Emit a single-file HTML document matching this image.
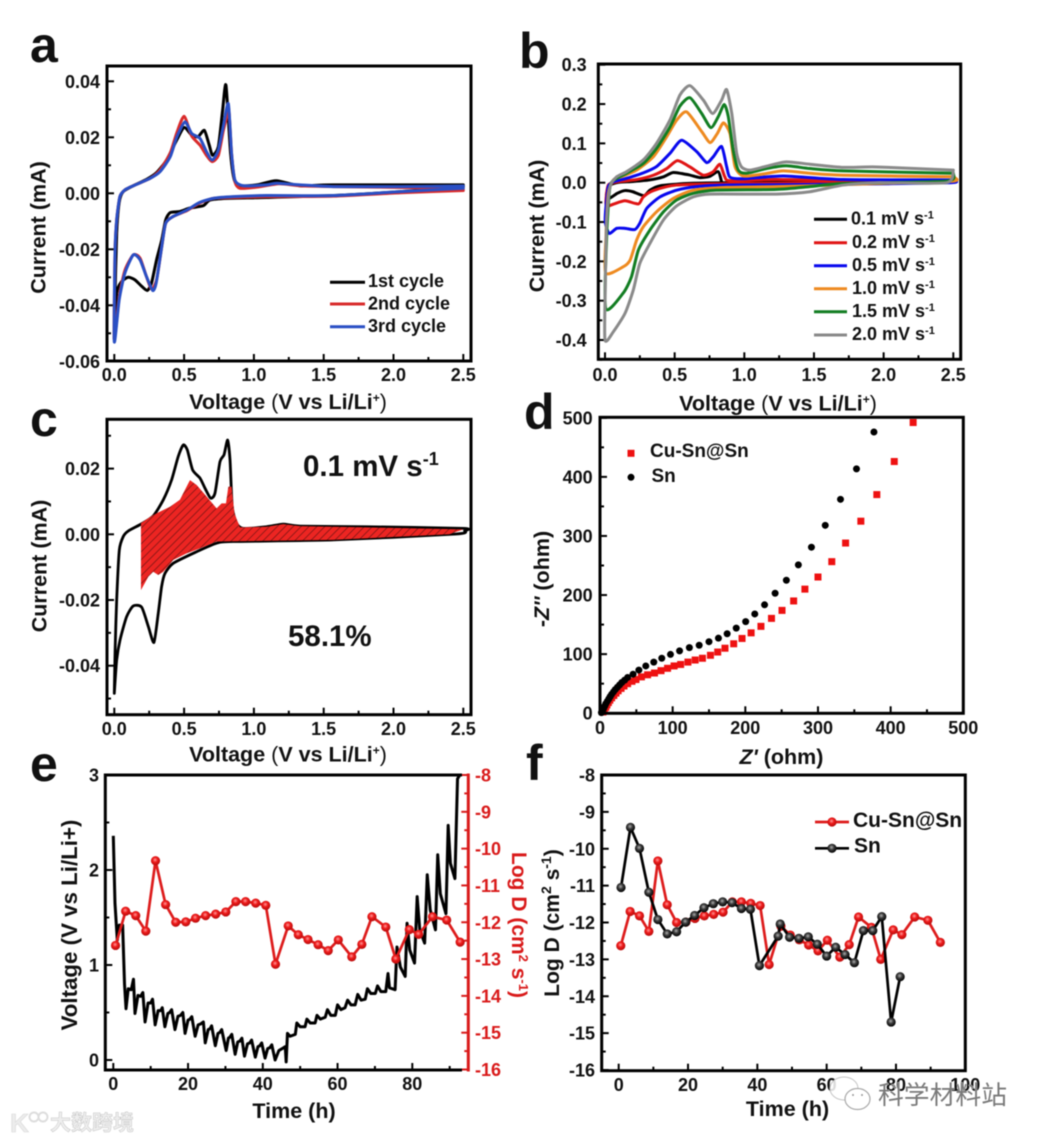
<!DOCTYPE html>
<html lang="en">
<head>
<meta charset="utf-8">
<title>Electrochemical characterisation of Cu-Sn@Sn</title>
<style>
html,body{margin:0;padding:0;background:#fff;}
svg{display:block;font-family:"Liberation Sans","Noto Sans CJK SC",sans-serif;font-weight:bold;fill:#111;filter:blur(0.45px);}
.tick{font-size:18px;}
.title{font-size:21.5px;}
.leg{font-size:18px;}
.letter{font-size:50px;}
.frame{fill:none;stroke:#000;stroke-width:3;}
.thin{font-weight:normal;}
</style>
</head>
<body>
<svg id="figure" xmlns="http://www.w3.org/2000/svg" width="1041" height="1141" viewBox="0 0 1041 1141">
<defs>
  <pattern id="hatch" patternUnits="userSpaceOnUse" width="5.6" height="5.6" patternTransform="rotate(-45)">
    <rect width="5.6" height="5.6" fill="#ec2522"/>
    <line x1="0" y1="2.8" x2="5.6" y2="2.8" stroke="#5a1210" stroke-width="0.6"/>
  </pattern>
  <radialGradient id="ballRed" cx="45%" cy="40%" r="60%">
    <stop offset="0" stop-color="#ff9a9a"/><stop offset="0.45" stop-color="#ee1a1a"/><stop offset="1" stop-color="#b50d0d"/>
  </radialGradient>
  <radialGradient id="ballBlack" cx="45%" cy="40%" r="60%">
    <stop offset="0" stop-color="#b0b0b0"/><stop offset="0.45" stop-color="#3a3a3a"/><stop offset="1" stop-color="#000"/>
  </radialGradient>
</defs>

<!-- Panel a -->
<g id="panel-a">
  <text class="letter" x="30" y="62">a</text>
  <g id="plot-a"></g>
  <rect class="frame" x="107" y="66" width="364" height="295"/>
  <text class="title" transform="translate(45.5,227.5) rotate(-90)" text-anchor="middle">Current (mA)</text>
  <text class="title" x="288" y="409" text-anchor="middle">Voltage <tspan class="thin">(</tspan>V vs Li/Li<tspan dy="-7" font-size="12">+</tspan><tspan dy="7" class="thin">)</tspan></text>
  <g>
    <line x1="330" x2="365" y1="282.3" y2="282.3" stroke="#000" stroke-width="3"/>
    <text class="leg" x="368" y="287">1st cycle</text>
    <line x1="330" x2="365" y1="304" y2="304" stroke="#d92b2b" stroke-width="3"/>
    <text class="leg" x="368" y="309.5">2nd cycle</text>
    <line x1="330" x2="365" y1="326.7" y2="326.7" stroke="#2a4fc4" stroke-width="3"/>
    <text class="leg" x="368" y="332">3rd cycle</text>
  </g>
</g>

<!-- Panel b -->
<g id="panel-b">
  <text class="letter" x="519" y="68">b</text>
  <g id="plot-b"></g>
  <rect class="frame" x="598.3" y="64" width="362.4" height="295.3"/>
  <text class="title" transform="translate(544,226) rotate(-90)" text-anchor="middle">Current (mA)</text>
  <text class="title" x="778" y="410.5" text-anchor="middle">Voltage <tspan class="thin">(</tspan>V vs Li/Li<tspan dy="-7" font-size="12">+</tspan><tspan dy="7" class="thin">)</tspan></text>
  <g>
    <line x1="814" x2="847" y1="219.3" y2="219.3" stroke="#000" stroke-width="3"/>
    <text class="leg" x="851" y="224.5">0.1 mV s<tspan dy="-6" font-size="11">-1</tspan></text>
    <line x1="814" x2="847" y1="242.7" y2="242.7" stroke="#e01414" stroke-width="3"/>
    <text class="leg" x="852" y="248">0.2 mV s<tspan dy="-6" font-size="11">-1</tspan></text>
    <line x1="814" x2="847" y1="265.7" y2="265.7" stroke="#0808ee" stroke-width="3"/>
    <text class="leg" x="852" y="271">0.5 mV s<tspan dy="-6" font-size="11">-1</tspan></text>
    <line x1="814" x2="847" y1="288.7" y2="288.7" stroke="#ee8a20" stroke-width="3"/>
    <text class="leg" x="852" y="294">1.0 mV s<tspan dy="-6" font-size="11">-1</tspan></text>
    <line x1="814" x2="847" y1="311.7" y2="311.7" stroke="#127d22" stroke-width="3"/>
    <text class="leg" x="852" y="317">1.5 mV s<tspan dy="-6" font-size="11">-1</tspan></text>
    <line x1="814" x2="847" y1="335" y2="335" stroke="#8a8a8a" stroke-width="3"/>
    <text class="leg" x="852" y="340">2.0 mV s<tspan dy="-6" font-size="11">-1</tspan></text>
  </g>
</g>

<!-- Panel c -->
<g id="panel-c">
  <text class="letter" x="30" y="436">c</text>
  <g id="plot-c"></g>
  <rect class="frame" x="107" y="419.3" width="364" height="295.4"/>
  <text class="title" transform="translate(46.5,566) rotate(-90)" text-anchor="middle">Current (mA)</text>
  <text class="title" x="288" y="761.5" text-anchor="middle">Voltage <tspan class="thin">(</tspan>V vs Li/Li<tspan dy="-7" font-size="12">+</tspan><tspan dy="7" class="thin">)</tspan></text>
  <text x="303" y="476" font-size="29.5">0.1 mV s<tspan dy="-11" font-size="18">-1</tspan></text>
  <text x="288" y="646" font-size="29.5">58.1%</text>
</g>

<!-- Panel d -->
<g id="panel-d">
  <text class="letter" x="524" y="429">d</text>
  <g id="plot-d"></g>
  <rect class="frame" x="600" y="417.3" width="363.3" height="296"/>
  <text class="title" transform="translate(549,579) rotate(-90)" text-anchor="middle">-<tspan font-style="italic">Z''</tspan> (ohm)</text>
  <text class="title" x="781.5" y="764" text-anchor="middle"><tspan font-style="italic">Z'</tspan> (ohm)</text>
  <g>
    <rect x="627.5" y="449.8" width="7" height="7" fill="#ee1111"/>
    <text x="650" y="457" font-size="19">Cu-Sn@Sn</text>
    <circle cx="631" cy="477.3" r="3.5" fill="#000"/>
    <text x="651.5" y="482" font-size="19">Sn</text>
  </g>
</g>

<!-- Panel e -->
<g id="panel-e">
  <text class="letter" x="30" y="781">e</text>
  <g id="plot-e"></g>
  <path class="frame" d="M462,775H105.3V1070H462"/>
  <line x1="468.3" x2="468.3" y1="773.5" y2="1071.5" stroke="#d91a1a" stroke-width="3"/>
  <text transform="translate(77,925) rotate(-90)" text-anchor="middle" font-size="22.3">Voltage (V vs Li/Li+)</text>
  <text transform="translate(512,925) rotate(90)" text-anchor="middle" font-size="21" style="fill:#d91a1a">Log D (cm<tspan dy="-7" font-size="13">2</tspan><tspan dy="7"> s</tspan><tspan dy="-7" font-size="13">-1</tspan><tspan dy="7">)</tspan></text>
  <text class="title" x="294" y="1118" text-anchor="middle">Time (h)</text>
</g>

<!-- Panel f -->
<g id="panel-f">
  <text class="letter" x="526" y="780">f</text>
  <g id="plot-f"></g>
  <rect class="frame" x="601.7" y="775" width="363.6" height="295.7"/>
  <text transform="translate(559,923) rotate(-90)" text-anchor="middle" font-size="21">Log D (cm<tspan dy="-8" font-size="14">2</tspan><tspan dy="8"> s</tspan><tspan dy="-8" font-size="14">-1</tspan><tspan dy="8">)</tspan></text>
  <text class="title" x="787.5" y="1116" text-anchor="middle">Time (h)</text>
  <g>
    <line x1="815" x2="849" y1="822" y2="822" stroke="#dd1c1c" stroke-width="2.7"/>
    <circle cx="832" cy="822" r="4.6" fill="url(#ballRed)"/>
    <text x="853" y="827" font-size="21">Cu-Sn@Sn</text>
    <line x1="815" x2="849" y1="848.3" y2="848.3" stroke="#000" stroke-width="2.7"/>
    <circle cx="832" cy="848.3" r="4.6" fill="url(#ballBlack)"/>
    <text x="854" y="852.5" font-size="21">Sn</text>
  </g>
</g>

<!-- Watermarks -->
<g>
  <text x="10" y="1132" font-size="26" style="fill:#ececec;stroke:#d8d8d8;stroke-width:.6">K</text>
  <circle cx="34" cy="1117" r="4.5" fill="none" stroke="#ddd" stroke-width="2"/>
  <circle cx="43" cy="1117" r="4.5" fill="none" stroke="#ddd" stroke-width="2"/>
  <text x="50" y="1130" font-size="21" style="fill:#eeeeee;stroke:#c8c8c8;stroke-width:.5;font-weight:bold">大数跨境</text>
</g>
<g>
  <ellipse cx="844" cy="1088.5" rx="14" ry="11.5" fill="#fff" fill-opacity="0.85" stroke="#c4c4c4" stroke-width="1"/>
  <ellipse cx="857.5" cy="1099" rx="12.5" ry="10.5" fill="#fff" stroke="#a8a8a8" stroke-width="1.2"/>
  <circle cx="853" cy="1095" r="1" fill="#999"/>
  <circle cx="862" cy="1095" r="1" fill="#999"/>
  <text x="878" y="1104" font-size="25.8" style="fill:#7a7a7a;stroke:#fff;stroke-width:.5;font-weight:normal;paint-order:stroke">科学材料站</text>
</g>
</svg>

<script>
// ---------- Panel a data: [voltage V, current mA] ----------
const cycle1 = [[2.5,.003],[1.57,.003],[1.33,.0027],[1.16,.0045],[1.02,.003],[.9,.0027],[.86,.0047],[.833,.0142],[.80,.0386],[.776,.0297],[.745,.0166],[.704,.0136],[.68,.0172],[.645,.0225],[.60,.0202],[.554,.0208],[.50,.0235],[.447,.019],[.375,.0119],[.303,.0074],[.232,.005],[.136,.0027],[.064,.0006],[.036,-.003],[.017,-.0142],[.004,-.039],[0,-.052],[.017,-.0356],[.053,-.0315],[.1,-.03],[.148,-.0309],[.196,-.0332],[.236,-.0347],[.267,-.032],[.303,-.0237],[.34,-.0166],[.368,-.0095],[.4,-.0069],[.47,-.0065],[.54,-.0053],[.638,-.0044],[.685,-.0024],[.805,-.0018],[1.09,-.0015],[1.57,-.0008],[2.05,.0006],[2.5,.0024]];
const cycle2 = [[2.5,.0012],[2.2,.002],[1.57,.0024],[1.33,.0027],[1.18,.0034],[1.02,.0022],[.9,.0018],[.864,.0042],[.84,.0142],[.82,.03],[.80,.0262],[.78,.0222],[.745,.0135],[.70,.0113],[.661,.0135],[.614,.0172],[.554,.0205],[.50,.0275],[.447,.0215],[.4,.0143],[.327,.0083],[.255,.0053],[.136,.0027],[.076,.0012],[.04,-.0012],[.017,-.0095],[.005,-.0214],[0,-.052],[.035,-.037],[.076,-.0275],[.136,-.022],[.184,-.0231],[.23,-.0297],[.267,-.0342],[.303,-.0309],[.34,-.019],[.368,-.0107],[.42,-.0083],[.52,-.0062],[.61,-.0035],[.71,-.0018],[.85,-.0015],[1.09,-.0012],[1.57,-.001],[2.05,.0002],[2.5,.001]];
const cycle3 = [[2.5,.0026],[2.05,.0024],[1.57,.0024],[1.33,.003],[1.163,.0036],[1.09,.003],[.924,.0027],[.864,.0047],[.84,.0142],[.817,.032],[.78,.0237],[.745,.0154],[.702,.0119],[.661,.0148],[.614,.0196],[.554,.0214],[.506,.0255],[.447,.02],[.4,.013],[.327,.0077],[.255,.0053],[.136,.0027],[.076,.0012],[.04,-.0012],[.017,-.0095],[.005,-.0214],[0,-.053],[.035,-.038],[.076,-.0285],[.136,-.022],[.184,-.0237],[.23,-.0297],[.275,-.0347],[.30,-.032],[.34,-.019],[.368,-.0107],[.42,-.0083],[.52,-.006],[.61,-.0033],[.71,-.0018],[.85,-.0012],[1.09,-.0008],[1.57,-.0008],[2.05,.0006],[2.5,.0018]];

// ---------- Panel b data: [voltage V, current mA] ----------
const rate01 = [[.837,.002],[.813,.028],[.75,.016],[.68,.013],[.6,.02],[.49,.026],[.42,.015],[.32,.007],[.2,.003],[.1,.001],[.04,-.006],[.01,-.03],[.03,-.04],[.088,-.027],[.144,-.02],[.2,-.023],[.28,-.033],[.323,-.019],[.395,-.008],[.586,-.002],[.85,0],[1.5,.001],[2.5,.002]];
const rate02 = [[2.5,.002],[2.19,.004],[1.23,.008],[.9,.005],[.86,.015],[.825,.047],[.777,.028],[.706,.019],[.61,.04],[.52,.056],[.443,.036],[.347,.019],[.227,.008],[.084,.002],[.024,-.006],[.007,-.044],[.012,-.06],[.065,-.054],[.144,-.046],[.24,-.054],[.275,-.036],[.347,-.02],[.514,-.006],[.993,-.002],[2.5,.002]];
const rate05 = [[2.5,.007],[1.71,.008],[1.28,.017],[.993,.01],[.897,.014],[.873,.041],[.837,.092],[.777,.066],[.73,.051],[.658,.079],[.55,.108],[.467,.075],[.37,.041],[.275,.025],[.155,.011],[.06,.002],[.024,-.01],[.007,-.06],[.002,-.1],[.03,-.129],[.084,-.116],[.144,-.116],[.215,-.119],[.25,-.103],[.3,-.065],[.395,-.036],[.514,-.019],[.658,-.01],[.873,-.006],[1.71,-.004],[2.48,0],[2.5,.007]];
const rate10 = [[2.5,.015],[1.71,.019],[1.47,.024],[1.28,.03],[1.136,.022],[.993,.017],[.933,.041],[.897,.125],[.85,.152],[.806,.125],[.754,.102],[.694,.13],[.586,.18],[.514,.159],[.443,.117],[.347,.066],[.227,.032],[.13,.017],[.06,.007],[.024,-.027],[.007,-.137],[.005,-.23],[.13,-.214],[.18,-.197],[.227,-.146],[.275,-.112],[.37,-.074],[.49,-.04],[.634,-.019],[.873,-.012],[1.23,-.01],[1.47,-.008],[1.95,-.002],[2.5,.004],[2.5,.015]];
const rate15 = [[2.5,.024],[1.71,.03],[1.47,.036],[1.30,.043],[1.16,.036],[1.017,.024],[.957,.032],[.92,.083],[.885,.168],[.856,.199],[.813,.168],[.76,.14],[.694,.176],[.61,.216],[.538,.195],[.467,.142],[.37,.087],[.275,.049],[.155,.024],[.084,.011],[.036,-.01],[.012,-.137],[.005,-.32],[.13,-.281],[.19,-.239],[.24,-.171],[.323,-.12],[.42,-.074],[.514,-.044],[.634,-.027],[.8,-.019],[1.23,-.017],[1.47,-.01],[1.71,-.002],[2.45,.004],[2.5,.024]];
const rate20 = [[2.5,.032],[1.95,.04],[1.71,.039],[1.47,.047],[1.30,.053],[1.16,.042],[1.04,.032],[.98,.04],[.945,.075],[.91,.176],[.873,.237],[.837,.21],[.773,.176],[.706,.21],[.61,.2466],[.538,.223],[.467,.16],[.37,.10],[.275,.058],[.155,.028],[.084,.015],[.036,-.01],[.012,-.095],[.002,-.264],[0,-.4],[.06,-.379],[.144,-.332],[.203,-.273],[.25,-.205],[.323,-.154],[.419,-.095],[.514,-.059],[.634,-.036],[.754,-.029],[1.23,-.029],[1.47,-.023],[1.71,-.006],[1.95,0],[2.45,0],[2.5,.032]];

// ---------- Panel c data ----------
const totalCurve = [[0,-.0484],[.006,-.035],[.017,-.02],[.036,-.0048],[.064,-.0007],[.1,.001],[.191,.0031],[.279,.0056],[.351,.0105],[.41,.0165],[.458,.0237],[.494,.0272],[.523,.0257],[.561,.0196],[.614,.0171],[.65,.014],[.69,.011],[.721,.0125],[.757,.0221],[.786,.0242],[.812,.0287],[.829,.0226],[.845,.0084],[.876,.0034],[.924,.0018],[1.09,.0023],[1.21,.0031],[1.33,.0025],[1.81,.0023],[2.5,.0018],[2.51,.0011],[2.45,.0001],[1.57,-.0017],[.852,-.0022],[.733,-.0027],[.59,-.0053],[.423,-.0088],[.363,-.0119],[.339,-.0159],[.315,-.024],[.284,-.0329],[.244,-.0281],[.196,-.0222],[.136,-.0218],[.088,-.0251],[.041,-.0322],[.017,-.0383],[0,-.0484]];
const capacitiveRegion = [[.191,.0034],[.279,.0059],[.399,.0084],[.47,.0105],[.542,.0165],[.59,.015],[.661,.0115],[.733,.0079],[.769,.0094],[.8,.0094],[.817,.0145],[.84,.0145],[.86,.0064],[.9,.0021],[1.09,.0023],[1.21,.0031],[1.33,.0025],[1.81,.0021],[2.5,.0015],[2.4,0],[1.57,-.0017],[.733,-.0022],[.614,-.0043],[.518,-.0058],[.423,-.0078],[.351,-.0114],[.315,-.0124],[.279,-.0114],[.244,-.0129],[.191,-.017]];

// ---------- Panel d data: [Z' ohm, -Z'' ohm] ----------
const impedanceCuSn = [[431,492],[405,426],[381,370],[359,325],[338,288],[319,256.5],[300,230.5],[282,210],[266.5,190],[250.5,174],[236,160.5],[221.5,147],[208,136],[195.5,126.5],[184,117.5],[172,110],[162,103.5],[152,98],[141,93],[131,90],[121,86.5],[111,82.5],[102,80],[93,76],[84,72],[75,68],[65.5,65],[57,61.5],[49.5,57],[44,54],[38,50],[33,46],[29,42],[25,38],[22,34],[19,30],[16,26],[13.5,22],[11.5,18],[9.5,14],[8,10],[6,6],[4,2]];
const impedanceSn = [[377,476],[353,413.5],[331,362],[310,318],[291,281],[273,251],[256.5,225],[241,203],[226.5,183.5],[213,168],[200.5,155],[187.5,144],[175,134.5],[163,127],[150,121],[136.5,115],[123,111],[109.5,105.5],[97,99.5],[85,93],[74,86.5],[63,80],[53.5,73],[45.5,66],[38,60.5],[34,56],[30,52],[27,48],[24,44],[21,40],[18.5,36],[16,32],[14,28],[12,24],[10,20],[8,16],[6.5,12],[5,8],[3.5,4],[2,1]];

// ---------- Panel e / f data ----------
const voltageProfile = [[0,2.36],[.45,1.65],[1.07,1.26],[1.6,1.42],[2.5,1.42],[3.0,.8],[3.4,.54],[4.0,.75],[4.8,.74],[5.4,.85],[5.8,.49],[6.6,.68],[7.3,.67],[7.9,.71],[8.5,.40],[9.3,.6],[10,.6],[10.5,.64],[11.2,.37],[12,.52],[12.7,.52],[13.1,.55],[13.8,.35],[14.6,.49],[15.1,.5],[15.6,.53],[16.5,.32],[17.3,.46],[18,.47],[18.6,.50],[19.2,.28],[20,.42],[20.5,.43],[21,.456],[21.9,.25],[22.7,.37],[23.4,.38],[24.1,.40],[24.6,.18],[25.4,.32],[25.9,.33],[26.3,.36],[27.3,.15],[28,.28],[28.5,.29],[29,.32],[30.2,.10],[30.8,.23],[31.2,.24],[31.7,.27],[32.6,.06],[33.3,.19],[33.9,.2],[34.4,.23],[35.1,.04],[35.9,.17],[36.5,.18],[37,.21],[38,.03],[38.7,.14],[39.2,.15],[39.7,.18],[40.6,.02],[41.3,.12],[41.9,.13],[42.4,.16],[43.3,0],[44.3,.1],[45.2,.12],[46,.14],[46.25,-.02],[46.6,.28],[47.3,.25],[48.7,.27],[49.1,.39],[50,.35],[51.3,.35],[51.8,.43],[52.7,.39],[54,.39],[54.5,.47],[55.4,.43],[56.7,.45],[57.3,.53],[58.2,.47],[59.4,.47],[60,.58],[60.9,.53],[62,.55],[62.7,.63],[63.6,.58],[64.7,.58],[65.4,.69],[66.3,.63],[67.4,.64],[68,.75],[68.9,.70],[70.1,.70],[70.7,.78],[71.6,.72],[72.9,.72],[73.5,.91],[73.9,.76],[75.4,.74],[75.9,1.19],[76.8,.98],[78.1,.88],[78.6,1.44],[79.3,1.16],[80.6,1.02],[81.3,1.72],[82,1.37],[83.3,1.23],[84,1.95],[84.8,1.58],[86.2,1.37],[86.8,2.16],[87.5,1.75],[89,1.54],[89.6,2.47],[90.2,2.07],[91.4,1.91],[92.1,2.96],[92.7,3.0]];
const timeCuSn = [.6,3.3,6,8.7,11.3,14,16.7,19.4,22,24.7,27.4,30.1,32.8,35.4,38.1,40.8,43.4,46.8,49.5,52.1,54.8,57.5,60.2,63.8,66.5,69.2,72.9,75.6,79.2,81.7,85.4,89.2,92.8];
const logDCuSn = [-12.63,-11.70,-11.82,-12.24,-10.33,-11.52,-12.0,-11.99,-11.89,-11.82,-11.78,-11.72,-11.44,-11.44,-11.48,-11.54,-13.14,-12.10,-12.34,-12.47,-12.61,-12.77,-12.48,-12.94,-12.60,-11.85,-12.13,-13.0,-12.2,-12.33,-11.85,-11.94,-12.54];
const timeSn = [.67,3.4,6,8.7,11.3,14,16.7,19.3,21.9,24.6,27.3,30,32.7,35.4,38,40.6,46,46.6,49.3,52,54.7,57.3,60,62.6,65.3,68,70.6,73.3,75.9,78.6,81.2];
const logDSn = [-11.05,-9.42,-9.99,-11.18,-11.92,-12.31,-12.25,-11.99,-11.81,-11.6,-11.49,-11.44,-11.46,-11.62,-11.64,-13.17,-12.37,-12.04,-12.40,-12.43,-12.39,-12.59,-12.91,-12.67,-12.87,-13.09,-12.22,-12.22,-11.84,-14.7,-13.47];

// ---------- Tick values ----------
const voltageTicks = [0,.5,1,1.5,2,2.5];
const voltageMinor = [.25,.75,1.25,1.75,2.25];
const currentATicks = [.04,.02,0,-.02,-.04,-.06];
const currentAMinor = [.03,.01,-.01,-.03,-.05];
const currentBTicks = [.3,.2,.1,0,-.1,-.2,-.3,-.4];
const currentBMinor = [.25,.15,.05,-.05,-.15,-.25,-.35,-.45];
const currentCTicks = [.02,0,-.02,-.04];
const currentCMinor = [.03,.01,-.01,-.03,-.05];
const ohmTicks = [0,100,200,300,400,500];
const ohmMinor = [50,150,250,350,450];
const timeETicks = [0,20,40,60,80];
const timeEMinor = [10,30,50,70,90];
const voltETicks = [0,1,2,3];
const voltEMinor = [.5,1.5,2.5];
const logTicks = [-8,-9,-10,-11,-12,-13,-14,-15,-16];
const logMinor = [-8.5,-9.5,-10.5,-11.5,-12.5,-13.5,-14.5,-15.5];
const timeFTicks = [0,20,40,60,80,100];
const timeFMinor = [10,30,50,70,90];

// ---------- Helpers ----------
const NS = 'http://www.w3.org/2000/svg';
function linear(d0, d1, p0, p1) { return v => p0 + (v - d0) * (p1 - p0) / (d1 - d0); }
function make(tag, name, parent) {
  const el = document.createElementNS(NS, tag);
  
  
  parent.appendChild(el);
  return el;
}
function smooth(points, sx, sy) {
  const p = points.map(q => [sx(q[0]), sy(q[1])]);
  let d = 'M' + p[0][0].toFixed(2) + ',' + p[0][1].toFixed(2);
  for (let i = 0; i < p.length - 1; i++) {
    const a = p[Math.max(i - 1, 0)], b = p[i], c = p[i + 1], e = p[Math.min(i + 2, p.length - 1)];
    const k = 1 / 9;
    d += 'C' + (b[0] + (c[0] - a[0]) * k).toFixed(2) + ',' + (b[1] + (c[1] - a[1]) * k).toFixed(2) + ' ' +
      (c[0] - (e[0] - b[0]) * k).toFixed(2) + ',' + (c[1] - (e[1] - b[1]) * k).toFixed(2) + ' ' +
      c[0].toFixed(2) + ',' + c[1].toFixed(2);
  }
  return d;
}
function curve(parent, name, points, sx, sy, color, width) {
  const el = make('path', name, parent);
  el.setAttribute('d', smooth(points, sx, sy));
  el.setAttribute('fill', 'none');
  el.setAttribute('stroke', color);
  el.setAttribute('stroke-width', width);
  el.setAttribute('stroke-linejoin', 'round');
  el.setAttribute('stroke-linecap', 'round');
  return el;
}
function polyline(parent, name, xs, ys, sx, sy, color, width) {
  const el = make('polyline', name, parent);
  el.setAttribute('points', xs.map((x, i) => sx(x).toFixed(2) + ',' + sy(ys[i]).toFixed(2)).join(' '));
  el.setAttribute('fill', 'none');
  el.setAttribute('stroke', color);
  el.setAttribute('stroke-width', width);
  el.setAttribute('stroke-linejoin', 'round');
  return el;
}
function balls(parent, name, xs, ys, sx, sy, fill, r) {
  xs.forEach((x, i) => {
    const el = make('circle', name, parent);
    el.setAttribute('cx', sx(x).toFixed(2));
    el.setAttribute('cy', sy(ys[i]).toFixed(2));
    el.setAttribute('r', r);
    el.setAttribute('fill', fill);
  });
}
function xAxis(parent, name, major, minor, sx, axisY, labelY, fmt) {
  major.forEach(v => {
    const t = make('line', name + '-major-tick', parent);
    t.setAttribute('x1', sx(v)); t.setAttribute('x2', sx(v));
    t.setAttribute('y1', axisY); t.setAttribute('y2', axisY - 7);
    t.setAttribute('stroke', '#000'); t.setAttribute('stroke-width', 2);
    const l = make('text', name + '-tick-label', parent);
    l.setAttribute('class', 'tick');
    l.setAttribute('x', sx(v)); l.setAttribute('y', labelY);
    l.setAttribute('text-anchor', 'middle');
    l.textContent = fmt(v);
  });
  minor.forEach(v => {
    const t = make('line', name + '-minor-tick', parent);
    t.setAttribute('x1', sx(v)); t.setAttribute('x2', sx(v));
    t.setAttribute('y1', axisY); t.setAttribute('y2', axisY - 4);
    t.setAttribute('stroke', '#000'); t.setAttribute('stroke-width', 2);
  });
}
function yAxis(parent, name, major, minor, sy, axisX, dir, labelX, anchor, fmt, color) {
  major.forEach(v => {
    const t = make('line', name + '-major-tick', parent);
    t.setAttribute('y1', sy(v)); t.setAttribute('y2', sy(v));
    t.setAttribute('x1', axisX); t.setAttribute('x2', axisX + dir * 7);
    t.setAttribute('stroke', color); t.setAttribute('stroke-width', 2);
    const l = make('text', name + '-tick-label', parent);
    l.setAttribute('class', 'tick');
    l.setAttribute('x', labelX); l.setAttribute('y', sy(v) + 6.5);
    l.setAttribute('text-anchor', anchor);
    l.style.fill = color === '#000' ? '#111' : color;
    l.textContent = fmt(v);
  });
  minor.forEach(v => {
    const t = make('line', name + '-minor-tick', parent);
    t.setAttribute('y1', sy(v)); t.setAttribute('y2', sy(v));
    t.setAttribute('x1', axisX); t.setAttribute('x2', axisX + dir * 4);
    t.setAttribute('stroke', color); t.setAttribute('stroke-width', 2);
  });
}
const f1 = v => v.toFixed(1);
const f2 = v => v.toFixed(2);
const f0 = v => String(v);

// ---------- Panel a ----------
const xA = linear(0, 2.5, 114.3, 463.3);
const yA = linear(0, -0.06, 193.3, 361.3);
const plotA = document.getElementById('plot-a');
xAxis(plotA, 'x-axis-a', voltageTicks, voltageMinor, xA, 361, 381, f1);
yAxis(plotA, 'y-axis-a', currentATicks, currentAMinor, yA, 107, 1, 100, 'end', f2, '#000');
curve(plotA, 'series-1st-cycle', cycle1, xA, yA, '#000', 3);
curve(plotA, 'series-2nd-cycle', cycle2, xA, yA, '#d92b2b', 3);
curve(plotA, 'series-3rd-cycle', cycle3, xA, yA, '#2a4fc4', 3);

// ---------- Panel b ----------
const xB = linear(0, 2.5, 605, 953.3);
const yB = linear(0, -0.4, 182.7, 340);
const plotB = document.getElementById('plot-b');
xAxis(plotB, 'x-axis-b', voltageTicks, voltageMinor, xB, 359.3, 381, f1);
yAxis(plotB, 'y-axis-b', currentBTicks, currentBMinor, yB, 598.3, 1, 586.7, 'end', f1, '#000');
curve(plotB, 'series-0.1-mv-s', rate01, xB, yB, '#000', 3);
curve(plotB, 'series-0.2-mv-s', rate02, xB, yB, '#e01414', 3);
curve(plotB, 'series-0.5-mv-s', rate05, xB, yB, '#0808ee', 3);
curve(plotB, 'series-1.0-mv-s', rate10, xB, yB, '#ee8a20', 3);
curve(plotB, 'series-1.5-mv-s', rate15, xB, yB, '#127d22', 3);
curve(plotB, 'series-2.0-mv-s', rate20, xB, yB, '#8a8a8a', 3);

// ---------- Panel c ----------
const xC = linear(0, 2.5, 114.3, 463.3);
const yC = linear(0, -0.04, 534.3, 665.7);
const plotC = document.getElementById('plot-c');
xAxis(plotC, 'x-axis-c', voltageTicks, voltageMinor, xC, 714.7, 735, f1);
yAxis(plotC, 'y-axis-c', currentCTicks, currentCMinor, yC, 107, 1, 100, 'end', f2, '#000');
curve(plotC, 'total-current-curve', totalCurve, xC, yC, '#000', 2.8);
const region = make('polygon', 'capacitive-region', plotC);
region.setAttribute('points', capacitiveRegion.map(p => xC(p[0]).toFixed(2) + ',' + yC(p[1]).toFixed(2)).join(' '));
region.setAttribute('fill', 'url(#hatch)');

// ---------- Panel d ----------
const xD = linear(0, 500, 600, 963.3);
const yD = linear(0, 500, 713.2, 417.8);
const plotD = document.getElementById('plot-d');
xAxis(plotD, 'x-axis-d', ohmTicks, ohmMinor, xD, 713.3, 734, f0);
yAxis(plotD, 'y-axis-d', ohmTicks, ohmMinor, yD, 600, 1, 592.7, 'end', f0, '#000');
impedanceCuSn.forEach(p => {
  const el = make('rect', 'point-cu-sn-sn', plotD);
  el.setAttribute('x', (xD(p[0]) - 3.5).toFixed(2));
  el.setAttribute('y', (yD(p[1]) - 3.5).toFixed(2));
  el.setAttribute('width', 7);
  el.setAttribute('height', 7);
  el.setAttribute('fill', '#ee1111');
});
impedanceSn.forEach(p => {
  const el = make('circle', 'point-sn', plotD);
  el.setAttribute('cx', xD(p[0]).toFixed(2));
  el.setAttribute('cy', yD(p[1]).toFixed(2));
  el.setAttribute('r', 3.5);
  el.setAttribute('fill', '#000');
});

// ---------- Panel e ----------
const xE = linear(0, 80, 113.3, 412.3);
const yEV = linear(0, 3, 1060, 775);
const yELog = linear(-8, -16, 775, 1069.5);
const plotE = document.getElementById('plot-e');
xAxis(plotE, 'x-axis-e', timeETicks, timeEMinor, xE, 1070, 1090, f0);
yAxis(plotE, 'y-axis-left-e', voltETicks, voltEMinor, yEV, 105.3, 1, 99, 'end', f0, '#000');
yAxis(plotE, 'y-axis-right-e', logTicks, logMinor, yELog, 468.3, -1, 475, 'start', f0, '#d91a1a');
polyline(plotE, 'voltage-profile', voltageProfile.map(p => p[0]), voltageProfile.map(p => p[1]), xE, yEV, '#000', 3);
polyline(plotE, 'log-d-line-e', timeCuSn, logDCuSn, xE, yELog, '#dd1c1c', 2.7);
balls(plotE, 'log-d-point-e', timeCuSn, logDCuSn, xE, yELog, 'url(#ballRed)', 4.6);

// ---------- Panel f ----------
const xF = linear(0, 100, 618.7, 965.3);
const yF = linear(-8, -16, 775, 1070);
const plotF = document.getElementById('plot-f');
xAxis(plotF, 'x-axis-f', timeFTicks, timeFMinor, xF, 1070.7, 1091, f0);
yAxis(plotF, 'y-axis-f', logTicks, logMinor, yF, 601.7, 1, 595, 'end', f0, '#000');
polyline(plotF, 'log-d-line-cu-sn-sn', timeCuSn, logDCuSn, xF, yF, '#dd1c1c', 2.7);
balls(plotF, 'log-d-point-cu-sn-sn', timeCuSn, logDCuSn, xF, yF, 'url(#ballRed)', 4.6);
polyline(plotF, 'log-d-line-sn', timeSn, logDSn, xF, yF, '#000', 2.7);
balls(plotF, 'log-d-point-sn', timeSn, logDSn, xF, yF, 'url(#ballBlack)', 4.6);
</script>
</body>
</html>
